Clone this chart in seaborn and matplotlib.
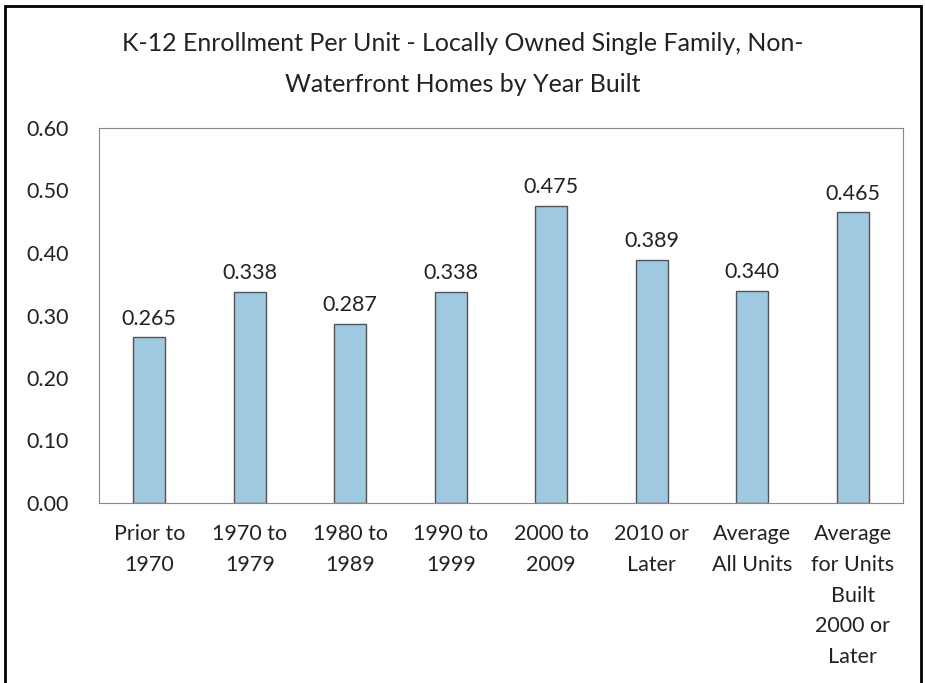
import matplotlib
matplotlib.use('Agg')
import matplotlib.pyplot as plt
import seaborn as sns
import pandas as pd
from matplotlib.patches import Rectangle

categories = ['Prior to\n1970', '1970 to\n1979', '1980 to\n1989', '1990 to\n1999',
              '2000 to\n2009', '2010 or\nLater', 'Average\nAll Units',
              'Average\nfor Units\nBuilt\n2000 or\nLater']
values = [0.265, 0.338, 0.287, 0.338, 0.475, 0.389, 0.340, 0.465]
yticks = [0.0, 0.1, 0.2, 0.3, 0.4, 0.5, 0.6]
title = 'K-12 Enrollment Per Unit - Locally Owned Single Family, Non-\nWaterfront Homes by Year Built'

sns.set_style('white')
plt.rcParams['font.family'] = ['Lato', 'DejaVu Sans']

df = pd.DataFrame({'cat': categories, 'val': values})

fig = plt.figure(figsize=(9.25, 6.83), dpi=100)
ax = fig.add_axes([99 / 925, 1 - 503 / 683, 804 / 925, 375 / 683])

sns.barplot(data=df, x='cat', y='val', color='#9fc9e0', width=0.32,
            edgecolor='#5a5050', linewidth=1.0, saturation=1, ax=ax)

for i, v in enumerate(values):
    ax.text(i, v + 0.014, f'{v:.3f}', ha='center', va='bottom', fontsize=15.5, color='#222222')

ax.set_ylim(0, 0.6)
ax.set_yticks(yticks)
ax.set_yticklabels([f'{t:.2f}' for t in yticks], fontsize=15.5, color='#222222')
ax.set_xticks(range(len(categories)))
ax.set_xticklabels(categories, fontsize=15.5, color='#222222', linespacing=1.68)
ax.tick_params(axis='x', length=0, pad=15)
ax.tick_params(axis='y', length=0, pad=22)
ax.set_xlabel('')
ax.set_ylabel('')
for s in ax.spines.values():
    s.set_color('#888888')
    s.set_linewidth(0.8)

fig.text(0.5, 1 - 64 / 683, title, ha='center', va='center', fontsize=18,
         color='#222222', linespacing=1.95)

fig.patches.append(Rectangle((5 / 925, -0.2), 916 / 925, 1.2 - 6 / 683,
                             transform=fig.transFigure, fill=False,
                             edgecolor='black', linewidth=2))

fig.savefig('out.png', dpi=100)
